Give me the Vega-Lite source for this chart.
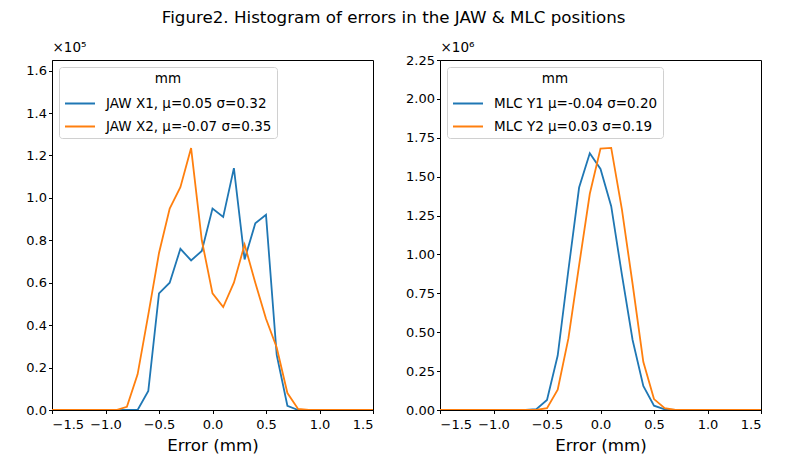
{
  "$schema": "https://vega.github.io/schema/vega-lite/v6.json",
  "padding": {"left": 25, "top": 9, "right": 5, "bottom": 5},
  "background": "white",
  "title": {
    "text": "Figure2. Histogram of errors in the JAW & MLC positions",
    "fontSize": 16.7,
    "fontWeight": "normal",
    "font": "DejaVu Sans",
    "color": "black",
    "anchor": "middle",
    "offset": 13
  },
  "config": {
    "font": "DejaVu Sans",
    "view": {"stroke": "black", "strokeWidth": 1},
    "axis": {
      "grid": false,
      "domainColor": "black",
      "tickColor": "black",
      "tickSize": 3.5,
      "labelColor": "black",
      "labelFontSize": 13,
      "labelPadding": 2,
      "titleColor": "black",
      "titleFontWeight": "normal"
    },
    "axisX": {"labelPadding": 5},
    "legend": {
      "orient": "top-left",
      "offset": 7,
      "padding": 5,
      "strokeColor": "#d0d0d0",
      "fillColor": "white",
      "cornerRadius": 3,
      "titleFontWeight": "normal",
      "titleFontSize": 13.5,
      "titleColor": "black",
      "titleAnchor": "middle",
      "titleAlign": "center",
      "titlePadding": 2,
      "labelFontSize": 13.5,
      "labelColor": "black",
      "labelLimit": 400,
      "labelOffset": 10,
      "symbolType": "stroke",
      "symbolSize": 900,
      "symbolStrokeWidth": 2,
      "rowPadding": -6
    }
  },
  "data": {
    "values": [
      {"panel": "jaw", "series": "JAW X1, μ=0.05 σ=0.32", "error": -1.5, "count": 0},
      {"panel": "jaw", "series": "JAW X1, μ=0.05 σ=0.32", "error": -1.4, "count": 0},
      {"panel": "jaw", "series": "JAW X1, μ=0.05 σ=0.32", "error": -1.3, "count": 0},
      {"panel": "jaw", "series": "JAW X1, μ=0.05 σ=0.32", "error": -1.2, "count": 0},
      {"panel": "jaw", "series": "JAW X1, μ=0.05 σ=0.32", "error": -1.1, "count": 0},
      {"panel": "jaw", "series": "JAW X1, μ=0.05 σ=0.32", "error": -1.0, "count": 0},
      {"panel": "jaw", "series": "JAW X1, μ=0.05 σ=0.32", "error": -0.9, "count": 0},
      {"panel": "jaw", "series": "JAW X1, μ=0.05 σ=0.32", "error": -0.8, "count": 0},
      {"panel": "jaw", "series": "JAW X1, μ=0.05 σ=0.32", "error": -0.7, "count": 0},
      {"panel": "jaw", "series": "JAW X1, μ=0.05 σ=0.32", "error": -0.6, "count": 9000},
      {"panel": "jaw", "series": "JAW X1, μ=0.05 σ=0.32", "error": -0.5, "count": 55000},
      {"panel": "jaw", "series": "JAW X1, μ=0.05 σ=0.32", "error": -0.4, "count": 60000},
      {"panel": "jaw", "series": "JAW X1, μ=0.05 σ=0.32", "error": -0.3, "count": 76000},
      {"panel": "jaw", "series": "JAW X1, μ=0.05 σ=0.32", "error": -0.2, "count": 70500},
      {"panel": "jaw", "series": "JAW X1, μ=0.05 σ=0.32", "error": -0.1, "count": 75000},
      {"panel": "jaw", "series": "JAW X1, μ=0.05 σ=0.32", "error": 0.0, "count": 95000},
      {"panel": "jaw", "series": "JAW X1, μ=0.05 σ=0.32", "error": 0.1, "count": 91000},
      {"panel": "jaw", "series": "JAW X1, μ=0.05 σ=0.32", "error": 0.2, "count": 114000},
      {"panel": "jaw", "series": "JAW X1, μ=0.05 σ=0.32", "error": 0.3, "count": 71000},
      {"panel": "jaw", "series": "JAW X1, μ=0.05 σ=0.32", "error": 0.4, "count": 88000},
      {"panel": "jaw", "series": "JAW X1, μ=0.05 σ=0.32", "error": 0.5, "count": 92000},
      {"panel": "jaw", "series": "JAW X1, μ=0.05 σ=0.32", "error": 0.6, "count": 26000},
      {"panel": "jaw", "series": "JAW X1, μ=0.05 σ=0.32", "error": 0.7, "count": 2000},
      {"panel": "jaw", "series": "JAW X1, μ=0.05 σ=0.32", "error": 0.8, "count": 0},
      {"panel": "jaw", "series": "JAW X1, μ=0.05 σ=0.32", "error": 0.9, "count": 0},
      {"panel": "jaw", "series": "JAW X1, μ=0.05 σ=0.32", "error": 1.0, "count": 0},
      {"panel": "jaw", "series": "JAW X1, μ=0.05 σ=0.32", "error": 1.1, "count": 0},
      {"panel": "jaw", "series": "JAW X1, μ=0.05 σ=0.32", "error": 1.2, "count": 0},
      {"panel": "jaw", "series": "JAW X1, μ=0.05 σ=0.32", "error": 1.3, "count": 0},
      {"panel": "jaw", "series": "JAW X1, μ=0.05 σ=0.32", "error": 1.4, "count": 0},
      {"panel": "jaw", "series": "JAW X1, μ=0.05 σ=0.32", "error": 1.5, "count": 0},
      {"panel": "jaw", "series": "JAW X2, μ=-0.07 σ=0.35", "error": -1.5, "count": 0},
      {"panel": "jaw", "series": "JAW X2, μ=-0.07 σ=0.35", "error": -1.4, "count": 0},
      {"panel": "jaw", "series": "JAW X2, μ=-0.07 σ=0.35", "error": -1.3, "count": 0},
      {"panel": "jaw", "series": "JAW X2, μ=-0.07 σ=0.35", "error": -1.2, "count": 0},
      {"panel": "jaw", "series": "JAW X2, μ=-0.07 σ=0.35", "error": -1.1, "count": 0},
      {"panel": "jaw", "series": "JAW X2, μ=-0.07 σ=0.35", "error": -1.0, "count": 0},
      {"panel": "jaw", "series": "JAW X2, μ=-0.07 σ=0.35", "error": -0.9, "count": 0},
      {"panel": "jaw", "series": "JAW X2, μ=-0.07 σ=0.35", "error": -0.8, "count": 1500},
      {"panel": "jaw", "series": "JAW X2, μ=-0.07 σ=0.35", "error": -0.7, "count": 16800},
      {"panel": "jaw", "series": "JAW X2, μ=-0.07 σ=0.35", "error": -0.6, "count": 45000},
      {"panel": "jaw", "series": "JAW X2, μ=-0.07 σ=0.35", "error": -0.5, "count": 74000},
      {"panel": "jaw", "series": "JAW X2, μ=-0.07 σ=0.35", "error": -0.4, "count": 95000},
      {"panel": "jaw", "series": "JAW X2, μ=-0.07 σ=0.35", "error": -0.3, "count": 105000},
      {"panel": "jaw", "series": "JAW X2, μ=-0.07 σ=0.35", "error": -0.2, "count": 123500},
      {"panel": "jaw", "series": "JAW X2, μ=-0.07 σ=0.35", "error": -0.1, "count": 80000},
      {"panel": "jaw", "series": "JAW X2, μ=-0.07 σ=0.35", "error": 0.0, "count": 55000},
      {"panel": "jaw", "series": "JAW X2, μ=-0.07 σ=0.35", "error": 0.1, "count": 48500},
      {"panel": "jaw", "series": "JAW X2, μ=-0.07 σ=0.35", "error": 0.2, "count": 60000},
      {"panel": "jaw", "series": "JAW X2, μ=-0.07 σ=0.35", "error": 0.3, "count": 78000},
      {"panel": "jaw", "series": "JAW X2, μ=-0.07 σ=0.35", "error": 0.4, "count": 60000},
      {"panel": "jaw", "series": "JAW X2, μ=-0.07 σ=0.35", "error": 0.5, "count": 43000},
      {"panel": "jaw", "series": "JAW X2, μ=-0.07 σ=0.35", "error": 0.6, "count": 29500},
      {"panel": "jaw", "series": "JAW X2, μ=-0.07 σ=0.35", "error": 0.7, "count": 8000},
      {"panel": "jaw", "series": "JAW X2, μ=-0.07 σ=0.35", "error": 0.8, "count": 500},
      {"panel": "jaw", "series": "JAW X2, μ=-0.07 σ=0.35", "error": 0.9, "count": 0},
      {"panel": "jaw", "series": "JAW X2, μ=-0.07 σ=0.35", "error": 1.0, "count": 0},
      {"panel": "jaw", "series": "JAW X2, μ=-0.07 σ=0.35", "error": 1.1, "count": 0},
      {"panel": "jaw", "series": "JAW X2, μ=-0.07 σ=0.35", "error": 1.2, "count": 0},
      {"panel": "jaw", "series": "JAW X2, μ=-0.07 σ=0.35", "error": 1.3, "count": 0},
      {"panel": "jaw", "series": "JAW X2, μ=-0.07 σ=0.35", "error": 1.4, "count": 0},
      {"panel": "jaw", "series": "JAW X2, μ=-0.07 σ=0.35", "error": 1.5, "count": 0},
      {"panel": "mlc", "series": "MLC Y1 μ=-0.04 σ=0.20", "error": -1.5, "count": 0},
      {"panel": "mlc", "series": "MLC Y1 μ=-0.04 σ=0.20", "error": -1.4, "count": 0},
      {"panel": "mlc", "series": "MLC Y1 μ=-0.04 σ=0.20", "error": -1.3, "count": 0},
      {"panel": "mlc", "series": "MLC Y1 μ=-0.04 σ=0.20", "error": -1.2, "count": 0},
      {"panel": "mlc", "series": "MLC Y1 μ=-0.04 σ=0.20", "error": -1.1, "count": 0},
      {"panel": "mlc", "series": "MLC Y1 μ=-0.04 σ=0.20", "error": -1.0, "count": 0},
      {"panel": "mlc", "series": "MLC Y1 μ=-0.04 σ=0.20", "error": -0.9, "count": 0},
      {"panel": "mlc", "series": "MLC Y1 μ=-0.04 σ=0.20", "error": -0.8, "count": 0},
      {"panel": "mlc", "series": "MLC Y1 μ=-0.04 σ=0.20", "error": -0.7, "count": 0},
      {"panel": "mlc", "series": "MLC Y1 μ=-0.04 σ=0.20", "error": -0.6, "count": 5000},
      {"panel": "mlc", "series": "MLC Y1 μ=-0.04 σ=0.20", "error": -0.5, "count": 65000},
      {"panel": "mlc", "series": "MLC Y1 μ=-0.04 σ=0.20", "error": -0.4, "count": 350000},
      {"panel": "mlc", "series": "MLC Y1 μ=-0.04 σ=0.20", "error": -0.3, "count": 900000},
      {"panel": "mlc", "series": "MLC Y1 μ=-0.04 σ=0.20", "error": -0.2, "count": 1430000},
      {"panel": "mlc", "series": "MLC Y1 μ=-0.04 σ=0.20", "error": -0.1, "count": 1650000},
      {"panel": "mlc", "series": "MLC Y1 μ=-0.04 σ=0.20", "error": 0.0, "count": 1550000},
      {"panel": "mlc", "series": "MLC Y1 μ=-0.04 σ=0.20", "error": 0.1, "count": 1310000},
      {"panel": "mlc", "series": "MLC Y1 μ=-0.04 σ=0.20", "error": 0.2, "count": 870000},
      {"panel": "mlc", "series": "MLC Y1 μ=-0.04 σ=0.20", "error": 0.3, "count": 450000},
      {"panel": "mlc", "series": "MLC Y1 μ=-0.04 σ=0.20", "error": 0.4, "count": 155000},
      {"panel": "mlc", "series": "MLC Y1 μ=-0.04 σ=0.20", "error": 0.5, "count": 28000},
      {"panel": "mlc", "series": "MLC Y1 μ=-0.04 σ=0.20", "error": 0.6, "count": 4000},
      {"panel": "mlc", "series": "MLC Y1 μ=-0.04 σ=0.20", "error": 0.7, "count": 0},
      {"panel": "mlc", "series": "MLC Y1 μ=-0.04 σ=0.20", "error": 0.8, "count": 0},
      {"panel": "mlc", "series": "MLC Y1 μ=-0.04 σ=0.20", "error": 0.9, "count": 0},
      {"panel": "mlc", "series": "MLC Y1 μ=-0.04 σ=0.20", "error": 1.0, "count": 0},
      {"panel": "mlc", "series": "MLC Y1 μ=-0.04 σ=0.20", "error": 1.1, "count": 0},
      {"panel": "mlc", "series": "MLC Y1 μ=-0.04 σ=0.20", "error": 1.2, "count": 0},
      {"panel": "mlc", "series": "MLC Y1 μ=-0.04 σ=0.20", "error": 1.3, "count": 0},
      {"panel": "mlc", "series": "MLC Y1 μ=-0.04 σ=0.20", "error": 1.4, "count": 0},
      {"panel": "mlc", "series": "MLC Y1 μ=-0.04 σ=0.20", "error": 1.5, "count": 0},
      {"panel": "mlc", "series": "MLC Y2 μ=0.03 σ=0.19", "error": -1.5, "count": 0},
      {"panel": "mlc", "series": "MLC Y2 μ=0.03 σ=0.19", "error": -1.4, "count": 0},
      {"panel": "mlc", "series": "MLC Y2 μ=0.03 σ=0.19", "error": -1.3, "count": 0},
      {"panel": "mlc", "series": "MLC Y2 μ=0.03 σ=0.19", "error": -1.2, "count": 0},
      {"panel": "mlc", "series": "MLC Y2 μ=0.03 σ=0.19", "error": -1.1, "count": 0},
      {"panel": "mlc", "series": "MLC Y2 μ=0.03 σ=0.19", "error": -1.0, "count": 0},
      {"panel": "mlc", "series": "MLC Y2 μ=0.03 σ=0.19", "error": -0.9, "count": 0},
      {"panel": "mlc", "series": "MLC Y2 μ=0.03 σ=0.19", "error": -0.8, "count": 0},
      {"panel": "mlc", "series": "MLC Y2 μ=0.03 σ=0.19", "error": -0.7, "count": 0},
      {"panel": "mlc", "series": "MLC Y2 μ=0.03 σ=0.19", "error": -0.6, "count": 0},
      {"panel": "mlc", "series": "MLC Y2 μ=0.03 σ=0.19", "error": -0.5, "count": 12000},
      {"panel": "mlc", "series": "MLC Y2 μ=0.03 σ=0.19", "error": -0.4, "count": 130000},
      {"panel": "mlc", "series": "MLC Y2 μ=0.03 σ=0.19", "error": -0.3, "count": 460000},
      {"panel": "mlc", "series": "MLC Y2 μ=0.03 σ=0.19", "error": -0.2, "count": 930000},
      {"panel": "mlc", "series": "MLC Y2 μ=0.03 σ=0.19", "error": -0.1, "count": 1390000},
      {"panel": "mlc", "series": "MLC Y2 μ=0.03 σ=0.19", "error": 0.0, "count": 1680000},
      {"panel": "mlc", "series": "MLC Y2 μ=0.03 σ=0.19", "error": 0.1, "count": 1685000},
      {"panel": "mlc", "series": "MLC Y2 μ=0.03 σ=0.19", "error": 0.2, "count": 1290000},
      {"panel": "mlc", "series": "MLC Y2 μ=0.03 σ=0.19", "error": 0.3, "count": 810000},
      {"panel": "mlc", "series": "MLC Y2 μ=0.03 σ=0.19", "error": 0.4, "count": 310000},
      {"panel": "mlc", "series": "MLC Y2 μ=0.03 σ=0.19", "error": 0.5, "count": 70000},
      {"panel": "mlc", "series": "MLC Y2 μ=0.03 σ=0.19", "error": 0.6, "count": 12000},
      {"panel": "mlc", "series": "MLC Y2 μ=0.03 σ=0.19", "error": 0.7, "count": 0},
      {"panel": "mlc", "series": "MLC Y2 μ=0.03 σ=0.19", "error": 0.8, "count": 0},
      {"panel": "mlc", "series": "MLC Y2 μ=0.03 σ=0.19", "error": 0.9, "count": 0},
      {"panel": "mlc", "series": "MLC Y2 μ=0.03 σ=0.19", "error": 1.0, "count": 0},
      {"panel": "mlc", "series": "MLC Y2 μ=0.03 σ=0.19", "error": 1.1, "count": 0},
      {"panel": "mlc", "series": "MLC Y2 μ=0.03 σ=0.19", "error": 1.2, "count": 0},
      {"panel": "mlc", "series": "MLC Y2 μ=0.03 σ=0.19", "error": 1.3, "count": 0},
      {"panel": "mlc", "series": "MLC Y2 μ=0.03 σ=0.19", "error": 1.4, "count": 0},
      {"panel": "mlc", "series": "MLC Y2 μ=0.03 σ=0.19", "error": 1.5, "count": 0}
    ]
  },
  "spacing": 31,
  "resolve": {"scale": {"color": "independent", "y": "independent"}, "legend": {"color": "independent"}},
  "hconcat": [
    {
      "width": 321,
      "height": 350,
      "transform": [{"filter": "datum.panel === 'jaw'"}],
      "mark": {"type": "line", "strokeWidth": 1.8, "clip": true},
      "encoding": {
        "x": {
          "field": "error",
          "type": "quantitative",
          "scale": {"domain": [-1.5, 1.5], "nice": false, "zero": false},
          "axis": {"values": [-1.5, -1.0, -0.5, 0.0, 0.5, 1.0, 1.5], "format": ".1f", "title": "Error (mm)", "titleFontSize": 16.7, "titlePadding": 6}
        },
        "y": {
          "field": "count",
          "type": "quantitative",
          "scale": {"domain": [0, 165000], "nice": false},
          "axis": {
            "values": [0, 20000, 40000, 60000, 80000, 100000, 120000, 140000, 160000],
            "labelExpr": "format(datum.value / 100000, '.1f')",
            "title": "×10⁵",
            "titleAngle": 0,
            "titleAlign": "left",
            "titleBaseline": "bottom",
            "titleX": 0,
            "titleY": -6,
            "titleFontSize": 13.5
          }
        },
        "color": {
          "field": "series",
          "type": "nominal",
          "scale": {"domain": ["JAW X1, μ=0.05 σ=0.32", "JAW X2, μ=-0.07 σ=0.35"], "range": ["#1f77b4", "#ff7f0e"]},
          "legend": {"title": "mm"}
        }
      }
    },
    {
      "width": 321,
      "height": 350,
      "transform": [{"filter": "datum.panel === 'mlc'"}],
      "mark": {"type": "line", "strokeWidth": 1.8, "clip": true},
      "encoding": {
        "x": {
          "field": "error",
          "type": "quantitative",
          "scale": {"domain": [-1.5, 1.5], "nice": false, "zero": false},
          "axis": {"values": [-1.5, -1.0, -0.5, 0.0, 0.5, 1.0, 1.5], "format": ".1f", "title": "Error (mm)", "titleFontSize": 16.7, "titlePadding": 6}
        },
        "y": {
          "field": "count",
          "type": "quantitative",
          "scale": {"domain": [0, 2250000], "nice": false},
          "axis": {
            "values": [0, 250000, 500000, 750000, 1000000, 1250000, 1500000, 1750000, 2000000, 2250000],
            "labelExpr": "format(datum.value / 1000000, '.2f')",
            "title": "×10⁶",
            "titleAngle": 0,
            "titleAlign": "left",
            "titleBaseline": "bottom",
            "titleX": 0,
            "titleY": -6,
            "titleFontSize": 13.5
          }
        },
        "color": {
          "field": "series",
          "type": "nominal",
          "scale": {"domain": ["MLC Y1 μ=-0.04 σ=0.20", "MLC Y2 μ=0.03 σ=0.19"], "range": ["#1f77b4", "#ff7f0e"]},
          "legend": {"title": "mm"}
        }
      }
    }
  ]
}
